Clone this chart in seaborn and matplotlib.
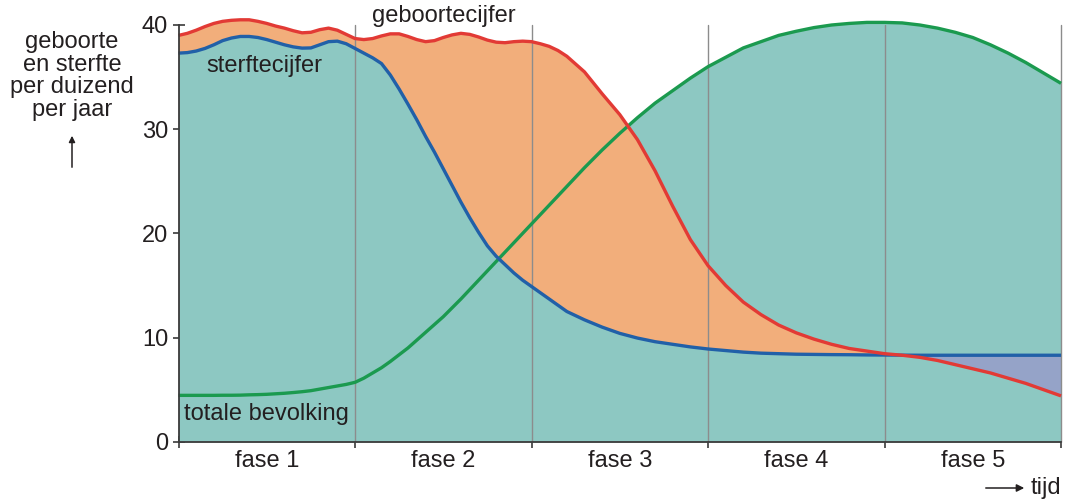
import numpy as np
import pandas as pd
import matplotlib
matplotlib.use("Agg")
import matplotlib.pyplot as plt
import seaborn as sns

# ---------------- data ----------------
# time axis in phase units (finer sampling where the curves wiggle)
tijd = [round(0.05 * i, 2) for i in range(45)] + [round(2.3 + 0.1 * i, 1) for i in range(28)]

geboortecijfer = [
    39.0, 39.2, 39.5, 39.85, 40.15, 40.35, 40.45, 40.5, 40.5, 40.35,
    40.15, 39.9, 39.7, 39.45, 39.25, 39.3, 39.55, 39.7, 39.5, 39.1,
    38.7, 38.6, 38.7, 38.95, 39.15, 39.15, 38.9, 38.6, 38.4, 38.5,
    38.8, 39.05, 39.2, 39.1, 38.85, 38.55, 38.35, 38.3, 38.4, 38.45,
    38.4, 38.2, 37.95, 37.55, 37.0,
    35.5, 33.4, 31.4, 29.0, 26.0, 22.6, 19.4, 16.9, 15.0, 13.4,
    12.2, 11.2, 10.45, 9.85, 9.35, 8.95, 8.7, 8.45, 8.3, 8.1,
    7.8, 7.4, 7.0, 6.6, 6.1, 5.6, 5.0, 4.4]

sterftecijfer = [
    37.3, 37.35, 37.5, 37.75, 38.1, 38.5, 38.75, 38.9, 38.9, 38.8,
    38.6, 38.35, 38.1, 37.9, 37.78, 37.8, 38.1, 38.4, 38.45, 38.2,
    37.75, 37.3, 36.85, 36.3, 35.2, 33.85, 32.4, 30.9, 29.3, 27.8,
    26.2, 24.6, 23.0, 21.5, 20.1, 18.8, 17.8, 17.0, 16.2, 15.5,
    14.9, 14.3, 13.7, 13.1, 12.5,
    11.7, 11.0, 10.4, 9.95, 9.6, 9.35, 9.1, 8.9, 8.75, 8.6,
    8.5, 8.45, 8.4, 8.38, 8.36, 8.35, 8.33, 8.32, 8.31, 8.3,
    8.3, 8.3, 8.3, 8.3, 8.3, 8.3, 8.3, 8.3]

totale_bevolking = [
    4.45, 4.45, 4.45, 4.45, 4.45, 4.46, 4.46, 4.47, 4.5, 4.52,
    4.55, 4.6, 4.65, 4.72, 4.8, 4.9, 5.05, 5.2, 5.35, 5.5,
    5.7, 6.1, 6.6, 7.1, 7.7, 8.35, 9.0, 9.75, 10.5, 11.25,
    12.0, 12.85, 13.7, 14.6, 15.5, 16.4, 17.3, 18.2, 19.1, 20.0,
    20.9, 21.8, 22.7, 23.6, 24.5,
    26.3, 28.0, 29.6, 31.1, 32.5, 33.7, 34.9, 36.0, 36.9, 37.8,
    38.4, 39.0, 39.4, 39.75, 40.0, 40.15, 40.25, 40.25, 40.2, 40.0,
    39.7, 39.3, 38.8, 38.1, 37.3, 36.4, 35.4, 34.4]

fasen = ["fase 1", "fase 2", "fase 3", "fase 4", "fase 5"]
y_ticks = [0, 10, 20, 30, 40]

# ---------------- style ----------------
sns.set_theme(style="white")
plt.rcParams["font.family"] = ["Liberation Sans", "DejaVu Sans"]
TXT = "#231f20"
TEAL = "#8dc8c2"
ORANGE = "#f2ae7b"
PURPLE = "#95a3c8"
RED = "#e23a35"
BLUE = "#2160a8"
GREEN = "#1b9a4f"
GRID = "#8c8c8c"
FS = 17

df = pd.DataFrame({"tijd": tijd, "geboorte": geboortecijfer,
                   "sterfte": sterftecijfer, "bevolking": totale_bevolking})
x = df["tijd"].to_numpy()
r = df["geboorte"].to_numpy()
b = df["sterfte"].to_numpy()
g = df["bevolking"].to_numpy()

fig = plt.figure(figsize=(10.67, 4.99), dpi=100)
ax = fig.add_axes([0.1673, 0.1148, 0.8271, 0.8351])

# fills
ax.fill_between(x, 0, np.maximum(b, g), color=TEAL, lw=0, clip_on=False, zorder=1)
ax.fill_between(x, b, r, where=r >= b, interpolate=True, color=ORANGE, lw=0,
                clip_on=False, zorder=2)
ax.fill_between(x, r, b, where=r < b, interpolate=True, color=PURPLE, lw=0,
                clip_on=False, zorder=2)

# phase separators
for xv in range(1, 6):
    ax.plot([xv, xv], [0, 40], color=GRID, lw=1.0, zorder=3, clip_on=False)

# curves
line_kw = dict(lw=2.4, clip_on=False, solid_joinstyle="round", solid_capstyle="butt")
sns.lineplot(data=df, x="tijd", y="bevolking", color=GREEN, ax=ax, zorder=4, **line_kw)
sns.lineplot(data=df, x="tijd", y="sterfte", color=BLUE, ax=ax, zorder=5, **line_kw)
sns.lineplot(data=df, x="tijd", y="geboorte", color=RED, ax=ax, zorder=6, **line_kw)

ax.set_xlim(0, 5)
ax.set_ylim(0, 40)
ax.set_xlabel("")
ax.set_ylabel("")

# spines
for s in ["top", "right"]:
    ax.spines[s].set_visible(False)
for s in ["left", "bottom"]:
    ax.spines[s].set_color("#3a3a3a")
    ax.spines[s].set_linewidth(1.3)
    ax.spines[s].set_zorder(7)

# ticks
ax.set_yticks(y_ticks)
ax.set_yticklabels([str(v) for v in y_ticks])
ax.tick_params(axis="y", which="major", direction="inout", length=9, width=1.2,
               color="#3a3a3a", labelsize=FS, labelcolor=TXT, pad=3, left=True)
ax.set_xticks(range(6))
ax.set_xticklabels([""] * 6)
ax.tick_params(axis="x", which="major", direction="inout", length=8, width=1.2,
               color="#3a3a3a", bottom=True)
ax.set_xticks([0.5, 1.5, 2.5, 3.5, 4.5], minor=True)
ax.set_xticklabels(fasen, minor=True)
ax.tick_params(axis="x", which="minor", length=0, labelsize=FS, labelcolor=TXT, pad=6)
ax.grid(False)

# annotations
ax.text(1.096, 40.3, "geboortecijfer", fontsize=FS, color=TXT, ha="left",
        va="baseline", clip_on=False, zorder=8)
ax.text(0.156, 35.5, "sterftecijfer", fontsize=FS, color=TXT, ha="left",
        va="baseline", zorder=8)
ax.text(0.031, 2.08, "totale bevolking", fontsize=FS, color=TXT, ha="left",
        va="baseline", zorder=8)

# y-axis description
fig.text(72 / 1067, 1 - 76 / 499, "geboorte\nen sterfte\nper duizend\nper jaar",
         fontsize=FS, color=TXT, ha="center", va="center", linespacing=1.04)
fig.add_artist(matplotlib.patches.FancyArrowPatch(
    (72 / 1067, 1 - 170 / 499), (72 / 1067, 1 - 133 / 499),
    transform=fig.transFigure, arrowstyle="-|>", mutation_scale=9,
    color=TXT, lw=1.1))

# time arrow
fig.add_artist(matplotlib.patches.FancyArrowPatch(
    (983 / 1067, 1 - 488 / 499), (1027 / 1067, 1 - 488 / 499),
    transform=fig.transFigure, arrowstyle="-|>", mutation_scale=11,
    color=TXT, lw=1.1))
fig.text(1031 / 1067, 1 - 488 / 499, "tijd", fontsize=FS, color=TXT,
         ha="left", va="center")

fig.savefig("out.png", dpi=100, facecolor="white")
